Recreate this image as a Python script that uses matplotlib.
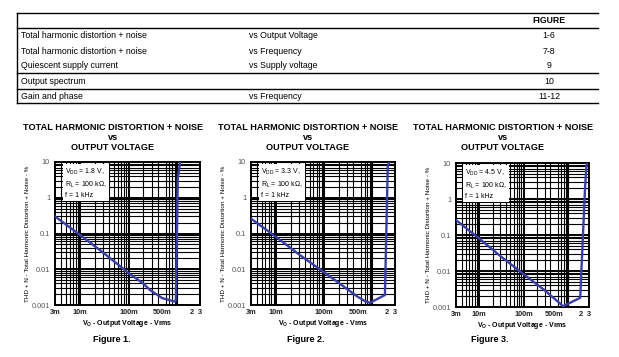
import numpy as np
import matplotlib
matplotlib.use("Agg")
import matplotlib.pyplot as plt
from matplotlib.ticker import LogLocator, NullFormatter, FixedLocator, FixedFormatter

plt.rcParams['font.family'] = ['Liberation Sans', 'DejaVu Sans']
plt.rcParams['mathtext.default'] = 'regular'

# table contents
tbl_col1 = ["Total harmonic distortion + noise", "Total harmonic distortion + noise",
            "Quiescent supply current", "Output spectrum", "Gain and phase"]
tbl_col2 = ["vs Output Voltage", "vs Frequency", "vs Supply voltage", "", "vs Frequency"]
tbl_fig = ["1-6", "7-8", "9", "10", "11-12"]

# curves: output voltage (Vrms) vs THD+N (%)
v1 = [0.003, 0.01, 0.03, 0.1, 0.2, 0.28, 0.5, 0.84, 0.92, 0.95, 1.04, 1.17]
thd1 = [0.3, 0.09, 0.029, 0.0078, 0.004, 0.0026, 0.00155, 0.00128, 0.00125, 0.0014, 3.5, 10]

v2 = [0.003, 0.01, 0.03, 0.1, 0.2, 0.3, 0.5, 0.7, 0.9, 1.85, 2.12, 2.28]
thd2 = [0.26, 0.08, 0.026, 0.0082, 0.0042, 0.0028, 0.0017, 0.0013, 0.00115, 0.0019, 7.5, 10]

v3 = [0.003, 0.01, 0.03, 0.1, 0.3, 0.5, 0.78, 1.9, 2.45, 2.65]
thd3 = [0.26, 0.08, 0.026, 0.0082, 0.0029, 0.0017, 0.00105, 0.0018, 2.2, 10]

vdd = ["1.8", "3.3", "4.5"]
xtick_pos = [0.003, 0.01, 0.1, 0.5, 2, 3]
xtick_lab = ["3m", "10m", "100m", "500m", "2", "3"]
ytick_pos = [0.001, 0.01, 0.1, 1, 10]
ytick_lab = ["0.001", "0.01", "0.1", "1", "10"]

W, H = 619, 357
fig = plt.figure(figsize=(W / 100, H / 100), dpi=100)

# background axes in pixel coords for the table and captions
bg = fig.add_axes([0, 0, 1, 1])
bg.set_xlim(0, W)
bg.set_ylim(H, 0)
bg.axis('off')

for yy in [13, 28, 73, 89, 103]:
    bg.plot([17, 598], [yy, yy], color='black', lw=1.0)
bg.plot([17, 17], [13, 103], color='black', lw=1.0)
bg.text(549, 20.5, "FIGURE", fontsize=6.3, fontweight='bold', ha='center', va='center')
rows_y = [35.5, 51, 66, 81, 96.5]
for i in range(5):
    bg.text(21, rows_y[i], tbl_col1[i], fontsize=6.3, va='center')
    bg.text(249, rows_y[i], tbl_col2[i], fontsize=6.3, va='center')
    bg.text(549, rows_y[i], tbl_fig[i], fontsize=6.3, va='center', ha='center')

axes_px = [(55, 162, 145, 143), (251, 162, 144, 143), (456, 163, 133, 144)]
title_cx = [113, 308, 503]
cap_cx = [112, 306, 490]
data = [(v1, thd1), (v2, thd2), (v3, thd3)]

for k in range(3):
    x0, y0, w, h = axes_px[k]
    cx = title_cx[k]
    bg.text(cx, 127, "TOTAL HARMONIC DISTORTION + NOISE", fontsize=6.6, fontweight='bold',
            ha='center', va='center')
    bg.text(cx, 137.5, "vs", fontsize=6.6, fontweight='bold', ha='center', va='center')
    bg.text(cx, 147.5, "OUTPUT VOLTAGE", fontsize=6.6, fontweight='bold', ha='center', va='center')
    bg.text(cap_cx[k], 340, "Figure %d." % (k + 1), fontsize=6.5, fontweight='bold',
            ha='center', va='center')

    ax = fig.add_axes([x0 / W, 1 - (y0 + h) / H, w / W, h / H])
    ax.set_xscale('log')
    ax.set_yscale('log')
    ax.set_xlim(0.003, 3)
    ax.set_ylim(0.001, 10)

    ax.xaxis.set_major_locator(FixedLocator(xtick_pos))
    ax.xaxis.set_major_formatter(FixedFormatter(xtick_lab))
    ax.yaxis.set_major_locator(FixedLocator(ytick_pos))
    ax.yaxis.set_major_formatter(FixedFormatter(ytick_lab))
    ax.xaxis.set_minor_locator(LogLocator(base=10, subs=np.arange(1, 10), numticks=20))
    ax.yaxis.set_minor_locator(LogLocator(base=10, subs=np.arange(1, 10), numticks=20))
    ax.xaxis.set_minor_formatter(NullFormatter())
    ax.yaxis.set_minor_formatter(NullFormatter())
    ax.tick_params(which='both', length=0)
    ax.tick_params(axis='x', labelsize=5.3, labelcolor='#222222', pad=3)
    ax.tick_params(axis='y', labelsize=5.3, labelcolor='#555555', pad=3.5)
    for lab in ax.get_xticklabels():
        lab.set_fontweight('bold')

    ax.grid(which='minor', color='black', lw=0.8)
    ax.grid(which='major', visible=False)
    for d in [0.01, 0.1, 1]:
        ax.axvline(d, color='black', lw=1.4)
        ax.axhline(d, color='black', lw=1.4)
    for s in ax.spines.values():
        s.set_linewidth(1.4)

    vx, vy = data[k]
    ax.plot(vx, vy, color='#3a3fa3', lw=1.7, zorder=5)

    ax.text(0.07, 0.965,
            "$V_{DD}$ = %s V,\n$R_L$ = 100 k\u03a9,\nf = 1 kHz" % vdd[k],
            transform=ax.transAxes, fontsize=5.0, va='top', ha='left', linespacing=1.35,
            zorder=6, bbox=dict(facecolor='white', edgecolor='none', pad=1.5))

    ax.set_ylabel("THD + N - Total Harmonic Distortion + Noise - %", fontsize=4.6,
                  labelpad=1.5)
    ax.set_xlabel("$V_O$ - Output Voltage - Vrms", fontsize=5.0, fontweight='bold',
                  labelpad=1.5)

fig.savefig("out.png", dpi=100)
